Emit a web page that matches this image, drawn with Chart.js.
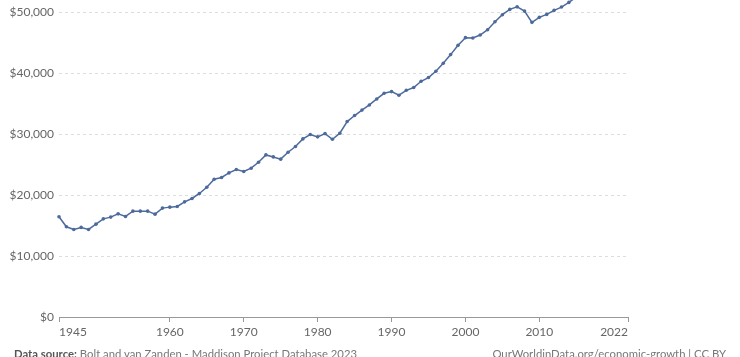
<!DOCTYPE html>
<html>
<head>
<meta charset="utf-8">
<script src="https://cdn.jsdelivr.net/npm/chart.js@4.4.0/dist/chart.umd.min.js"></script>
<style>
  html, body { margin: 0; padding: 0; background: #fff; }
  #wrap { position: relative; width: 740px; height: 357px; overflow: hidden; }
  canvas { position: absolute; left: 0; top: -4px; }
  .foot { position: absolute; top: 346.5px; font-family: Lato, sans-serif; font-size: 11.3px; color: #777; white-space: nowrap; }
  .foot b { color: #555; font-weight: 700; }
</style>
</head>
<body>
<div id="wrap">
  <canvas id="c" width="740" height="361"></canvas>
  <div class="foot" style="left:14px;"><b>Data source:</b> Bolt and van Zanden - Maddison Project Database 2023</div>
  <div class="foot" style="right:14px;">OurWorldinData.org/economic-growth | CC BY</div>
</div>
<script>
const years = [1945,1946,1947,1948,1949,1950,1951,1952,1953,1954,1955,1956,1957,1958,1959,
  1960,1961,1962,1963,1964,1965,1966,1967,1968,1969,1970,1971,1972,1973,1974,1975,1976,1977,1978,1979,
  1980,1981,1982,1983,1984,1985,1986,1987,1988,1989,1990,1991,1992,1993,1994,1995,1996,1997,1998,1999,
  2000,2001,2002,2003,2004,2005,2006,2007,2008,2009,2010,2011,2012,2013,2014,2015,2016,2017,2018,2019,
  2020,2021,2022];
const gdpPerCapita = [16440,14800,14370,14700,14370,15240,16110,16390,16930,16500,17370,17370,17370,16880,17870,
  18030,18140,18900,19450,20270,21290,22600,22900,23650,24200,23880,24420,25400,26600,26270,25900,27040,27970,29230,29940,
  29560,30100,29170,30160,32070,33060,33950,34800,35780,36710,36990,36390,37200,37650,38680,39290,40320,41630,43060,44580,
  45840,45780,46270,47150,48460,49610,50480,50900,50200,48350,49170,49660,50320,50860,51630,52500,53000,53800,55000,56000,
  54200,57300,58200];
const xTickYears = [1945,1960,1970,1980,1990,2000,2010,2022];
const yTickValues = [0,10000,20000,30000,40000,50000];
const yTickLabels = ["$0","$10,000","$20,000","$30,000","$40,000","$50,000"];

const points = years.map((y, i) => ({ x: y, y: gdpPerCapita[i] }));

new Chart(document.getElementById('c'), {
  type: 'line',
  data: {
    datasets: [{
      data: points,
      borderColor: '#4c6a9c',
      backgroundColor: '#4c6a9c',
      borderWidth: 1.5,
      pointRadius: 1.8,
      pointBorderWidth: 0,
      tension: 0,
      clip: { left: 5, top: 0, right: 0, bottom: 5 }
    }]
  },
  options: {
    responsive: false,
    animation: false,
    layout: { padding: { left: 0, right: 112, top: 0, bottom: 0 } },
    plugins: { legend: { display: false }, tooltip: { enabled: false } },
    scales: {
      x: {
        type: 'linear',
        min: 1945,
        max: 2022,
        afterBuildTicks: s => { s.ticks = xTickYears.map(v => ({ value: v })); },
        afterFit: s => { s.height = 40; s.paddingLeft = 0; s.paddingRight = 0; },
        ticks: {
          align: 'inner',
          maxRotation: 0,
          autoSkip: false,
          padding: 3,
          color: '#666',
          font: { family: 'Lato', size: 12 },
          callback: v => String(v)
        },
        grid: { drawOnChartArea: false, drawTicks: true, tickLength: 5, color: '#999', lineWidth: 1 },
        border: { display: true, color: '#999', width: 1 }
      },
      y: {
        type: 'linear',
        min: 0,
        max: 52020,
        afterBuildTicks: s => { s.ticks = yTickValues.map(v => ({ value: v })); },
        afterFit: s => { s.width = 59; s.paddingTop = 0; s.paddingBottom = 0; },
        ticks: {
          padding: 5,
          color: '#666',
          font: { family: 'Lato', size: 12 },
          callback: v => yTickLabels[yTickValues.indexOf(v)]
        },
        grid: { drawTicks: false, color: '#ddd', lineWidth: 1 },
        border: { display: false, dash: [3, 3] }
      }
    }
  }
});
</script>
</body>
</html>
